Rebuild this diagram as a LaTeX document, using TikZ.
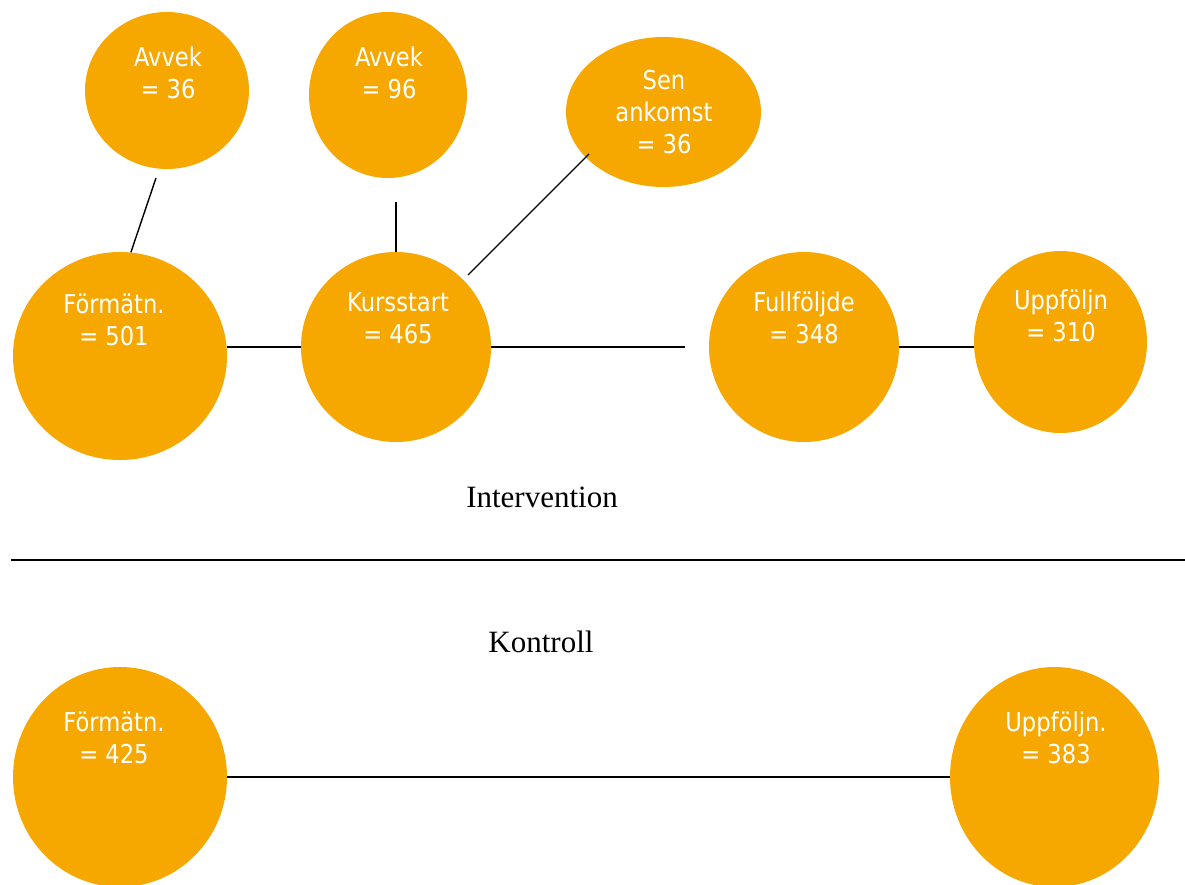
\documentclass[tikz,border=0pt]{standalone}
\usepackage{fontspec}
\usetikzlibrary{shapes.geometric,calc}
\newfontfamily\nodefont[FakeStretch=0.87]{DejaVu Sans}
\newfontfamily\titlefont{Liberation Serif}
\definecolor{bubcol}{RGB}{247,168,0}
\begin{document}
\begin{tikzpicture}[x=1pt,y=-1pt,
  bub/.style={ellipse, fill=bubcol, inner sep=0pt},
  lab/.style={text=white, font=\nodefont\fontsize{26}{32}\selectfont, align=center, inner sep=0pt},
  ttl/.style={font=\titlefont\fontsize{31}{36}\selectfont, inner sep=0pt},
  con/.style={line width=1.4pt, black}]
\useasboundingbox (0,0) rectangle (1185,885);

% bubbles
\node[bub, minimum width=164pt, minimum height=157pt] (a36) at (167,90.5) {};
\node[bub, minimum width=158pt, minimum height=166pt] (a96) at (388,95) {};
\node[bub, minimum width=195pt, minimum height=150pt] (sen) at (663.5,112) {};
\node[bub, minimum width=214pt, minimum height=208pt] (f501) at (120,356) {};
\node[bub, minimum width=190pt, minimum height=190pt] (k465) at (396,347) {};
\node[bub, minimum width=190pt, minimum height=190pt] (full) at (804,347) {};
\node[bub, minimum width=173pt, minimum height=182pt] (upp) at (1060.5,342) {};
\node[bub, minimum width=214pt, minimum height=220pt] (f425) at (120,777) {};
\node[bub, minimum width=209pt, minimum height=220pt] (u383) at (1054.5,777) {};

% labels
\node[lab] (ta36) at (168,73) {Avvek\\= 36};
\node[lab] (ta96) at (389,73) {Avvek\\= 96};
\node[lab] (tsen) at (664,112) {Sen\\ankomst\\= 36};
\node[lab] (tf501) at (114,320) {Förmätn.\\= 501};
\node[lab] (tk465) at (398,318) {Kursstart\\= 465};
\node[lab] (tfull) at (804,318) {Fullföljde\\= 348};
\node[lab] (tupp) at (1061,316) {Uppföljn\\= 310};
\node[lab] (tf425) at (114,738) {Förmätn.\\= 425};
\node[lab] (tu383) at (1056,738) {Uppföljn.\\= 383};

% titles
\node[ttl] (tint) at (542,497) {Intervention};
\node[ttl] (tkon) at (541,642) {Kontroll};

% free ends
\coordinate (c1) at (156,178);
\coordinate (c2) at (396,202);
\coordinate (c3a) at (589,154);
\coordinate (c3b) at (468,275);
\coordinate (c4) at (685,347);
\coordinate (s1) at (11,560);
\coordinate (s2) at (1185,560);

% connectors
\draw[con] (c1) -- (f501.84);
\draw[con] (c2) -- (k465.north);
\draw[con] (c3a) -- (c3b);
\draw[con] (k465.west) -- (k465.west -| f501.east);
\draw[con] (k465.east) -- (c4);
\draw[con] (full.east) -- (full.east -| upp.west);
\draw[con] (s1) -- (s2);
\draw[con] (f425.east) -- (u383.west);
\end{tikzpicture}
\end{document}
